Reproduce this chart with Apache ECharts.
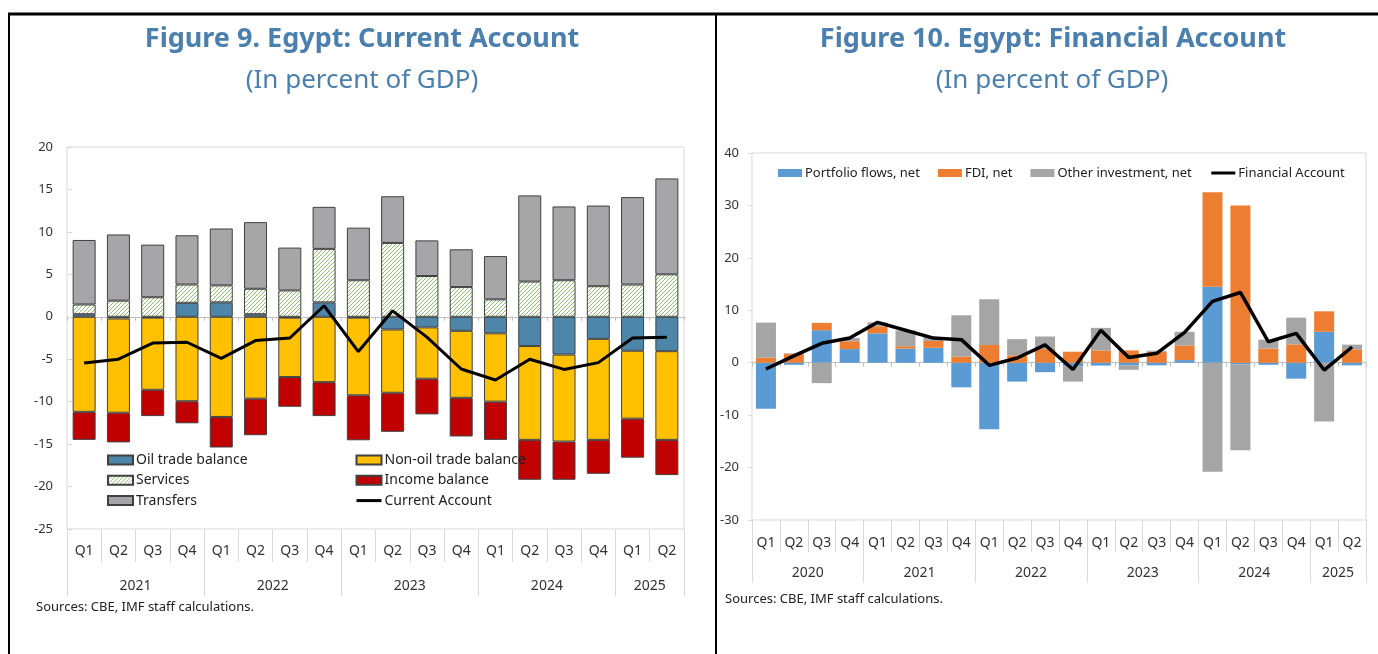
<!DOCTYPE html>
<html><head><meta charset="utf-8">
<script src="https://cdn.jsdelivr.net/npm/echarts@6/dist/echarts.min.js"></script>
<style>html,body{margin:0;padding:0;background:#fff;}#c{width:1378px;height:654px;}</style>
</head><body><div id="c"></div>
<script>
// ---------- Figure 9: Current Account (percent of GDP) ----------
const leftPeriods = ['2021Q1','2021Q2','2021Q3','2021Q4','2022Q1','2022Q2','2022Q3','2022Q4',
  '2023Q1','2023Q2','2023Q3','2023Q4','2024Q1','2024Q2','2024Q3','2024Q4','2025Q1','2025Q2'];
const oilTrade   = [0.3, -0.2, -0.1, 1.65, 1.7, 0.3, -0.1, 1.7, -0.1, -1.5, -1.25, -1.65, -1.95, -3.45, -4.45, -2.6, -4.0, -4.05];
const nonOilTrade= [-11.2, -11.1, -8.5, -9.95, -11.8, -9.65, -7.0, -7.7, -9.15, -7.45, -6.05, -7.9, -8.05, -11.05, -10.25, -11.9, -8.0, -10.45];
const incomeBal  = [-3.3, -3.5, -3.1, -2.6, -3.6, -4.3, -3.5, -4.0, -5.3, -4.6, -4.2, -4.55, -4.5, -4.7, -4.5, -4.0, -4.6, -4.15];
const services   = [1.15, 1.9, 2.3, 2.15, 2.0, 3.0, 3.1, 6.3, 4.3, 8.7, 4.8, 3.5, 2.05, 4.15, 4.3, 3.6, 3.8, 5.0];
const transfers  = [7.6, 7.8, 6.2, 5.8, 6.7, 7.85, 5.05, 4.95, 6.2, 5.5, 4.2, 4.45, 5.1, 10.15, 8.7, 9.5, 10.3, 11.3];
const currentAcc = [-5.45, -5.0, -3.1, -3.0, -4.9, -2.8, -2.5, 1.3, -4.1, 0.7, -2.4, -6.15, -7.45, -5.0, -6.2, -5.4, -2.5, -2.4];
const leftYTicks = {min: -25, max: 20, interval: 5};

// ---------- Figure 10: Financial Account (percent of GDP) ----------
const rightPeriods = ['2020Q1','2020Q2','2020Q3','2020Q4','2021Q1','2021Q2','2021Q3','2021Q4',
  '2022Q1','2022Q2','2022Q3','2022Q4','2023Q1','2023Q2','2023Q3','2023Q4',
  '2024Q1','2024Q2','2024Q3','2024Q4','2025Q1','2025Q2'];
const portfolio = [-8.8, -0.4, 6.2, 2.6, 5.6, 2.7, 2.85, -4.7, -12.7, -3.6, -1.8, -0.7, -0.55, -0.5, -0.5, 0.5, 14.5, -0.3, -0.4, -3.05, 5.9, -0.5];
const fdi       = [0.95, 1.7, 1.4, 1.5, 1.35, 0.45, 1.3, 1.15, 3.4, 1.4, 2.6, 2.1, 2.35, 2.35, 2.1, 2.8, 18.0, 30.0, 2.7, 3.5, 3.9, 2.55];
const otherInv  = [6.7, 0.1, -3.9, 0.6, 0.75, 3.0, 0.75, 7.9, 8.7, 3.1, 2.4, -2.9, 4.3, -0.85, 0.2, 2.6, -20.8, -16.4, 1.7, 5.1, -11.2, 0.9];
const finAcc    = [-1.2, 1.3, 3.7, 4.7, 7.7, 6.2, 4.7, 4.4, -0.5, 0.9, 3.4, -1.3, 6.2, 1.0, 1.8, 5.8, 11.7, 13.4, 4.0, 5.6, -1.4, 3.0];
const rightYTicks = {min: -30, max: 40, interval: 10};

const FONT = '"Noto Sans", "Open Sans", sans-serif';
const TITLE_COLOR = '#4a7fae';
const AXIS_GRAY = '#d9d9d9';
const TEXT = '#333333';

function hatchPattern() {
  const s = 4;
  const c = document.createElement('canvas');
  c.width = s; c.height = s;
  const g = c.getContext('2d');
  g.fillStyle = '#ffffff'; g.fillRect(0, 0, s, s);
  g.strokeStyle = '#8fc06f'; g.lineWidth = 1;
  g.beginPath();
  g.moveTo(0, s); g.lineTo(s, 0);
  g.moveTo(-1, 1); g.lineTo(1, -1);
  g.moveTo(s - 1, s + 1); g.lineTo(s + 1, s - 1);
  g.stroke();
  return c;
}

function yearBoundaries(periods) {
  const n = periods.length;
  const labels = new Array(n + 1).fill('');
  const ticks = [];
  let start = 0;
  for (let i = 1; i <= n; i++) {
    if (i === n || periods[i].slice(0, 4) !== periods[start].slice(0, 4)) {
      labels[Math.round((start + i) / 2)] = periods[start].slice(0, 4);
      ticks.push(start);
      start = i;
    }
  }
  ticks.push(n);
  return {labels, ticks};
}

function xAxesFor(gridIndex, periods, qMargin, yMargin, qTick, yTick) {
  const yb = yearBoundaries(periods);
  return [
    { type: 'category', gridIndex, data: periods, position: 'bottom', boundaryGap: true,
      axisLine: {show: false, onZero: false},
      axisTick: {show: true, interval: 0, length: qTick, lineStyle: {color: AXIS_GRAY}},
      axisLabel: {interval: 0, margin: qMargin, formatter: v => v.slice(4), color: TEXT, fontSize: 14, fontFamily: FONT},
      splitLine: {show: false} },
    { type: 'category', gridIndex, data: yb.labels.map((_, i) => 'b' + i), position: 'bottom', boundaryGap: false,
      axisLine: {show: false, onZero: false},
      axisTick: {show: true, interval: (i) => yb.ticks.indexOf(i) >= 0, length: yTick, lineStyle: {color: AXIS_GRAY}},
      axisLabel: {interval: 0, margin: yMargin, formatter: (v, i) => yb.labels[i], color: TEXT, fontSize: 14, fontFamily: FONT},
      splitLine: {show: false} },
    { type: 'category', gridIndex, data: periods, position: 'bottom', boundaryGap: true,
      axisLine: {show: true, onZero: true, lineStyle: {color: '#bfbfbf', width: 1}},
      axisTick: {show: true, interval: 0, length: 4, lineStyle: {color: '#bfbfbf'}},
      axisLabel: {show: false}, splitLine: {show: false} }
  ];
}

const hatch = hatchPattern();
const chart = echarts.init(document.getElementById('c'), null, {renderer: 'canvas'});

const barBorder = {borderColor: '#404040', borderWidth: 1};
const lineLegendItem = (name, w) => ({name, itemStyle: {opacity: 0, color: 'transparent', borderWidth: 0},
  lineStyle: {width: w, color: '#000000'}});

const option = {
  animation: false,
  backgroundColor: '#ffffff',
  textStyle: {fontFamily: FONT},
  grid: [
    {left: 67, right: 694, top: 147, bottom: 125, show: true, borderColor: AXIS_GRAY, borderWidth: 1, backgroundColor: 'transparent'},
    {left: 752, right: 12, top: 153, bottom: 134, show: true, borderColor: AXIS_GRAY, borderWidth: 1, backgroundColor: 'transparent'}
  ],
  xAxis: [].concat(
    xAxesFor(0, leftPeriods, 15, 50, 33, 67),
    xAxesFor(1, rightPeriods, 16, 46, 32, 63)
  ),
  yAxis: [
    { type: 'value', gridIndex: 0, min: leftYTicks.min, max: leftYTicks.max, interval: leftYTicks.interval,
      axisLine: {show: false}, axisTick: {show: true, inside: true, length: 5, lineStyle: {color: AXIS_GRAY}},
      axisLabel: {margin: 14, color: TEXT, fontSize: 13, fontFamily: FONT}, splitLine: {show: false} },
    { type: 'value', gridIndex: 1, min: rightYTicks.min, max: rightYTicks.max, interval: rightYTicks.interval,
      axisLine: {show: false}, axisTick: {show: true, length: 4, lineStyle: {color: AXIS_GRAY}},
      axisLabel: {margin: 13, color: TEXT, fontSize: 13, fontFamily: FONT}, splitLine: {show: false} }
  ],
  legend: [
    { data: [{name: 'Oil trade balance', icon: 'rect'}, {name: 'Services', icon: 'rect'}, {name: 'Transfers', icon: 'rect'}],
      orient: 'vertical', left: 107, top: 452, padding: 0, itemWidth: 25, itemHeight: 9, itemGap: 4.3, selectedMode: false,
      textStyle: {fontSize: 14, color: '#222', fontFamily: FONT, lineHeight: 16, padding: [0, 0, 0, -2]} },
    { data: [{name: 'Non-oil trade balance', icon: 'rect'}, {name: 'Income balance', icon: 'rect'}, lineLegendItem('Current Account', 3)],
      orient: 'vertical', left: 355, top: 452, padding: 0, itemWidth: 25, itemHeight: 9, itemGap: 4.3, selectedMode: false,
      textStyle: {fontSize: 14, color: '#222', fontFamily: FONT, lineHeight: 16, padding: [0, 0, 0, -2]} },
    { data: [{name: 'Portfolio flows, net', icon: 'rect'}, {name: 'FDI, net', icon: 'rect'}, {name: 'Other investment, net', icon: 'rect'}, lineLegendItem('Financial Account', 3)],
      orient: 'horizontal', left: 778, top: 165, padding: 0, width: 600, itemWidth: 24, itemHeight: 8, itemGap: 18, selectedMode: false,
      textStyle: {fontSize: 13, color: '#222', fontFamily: FONT, lineHeight: 16, padding: [0, 0, 0, -2]} }
  ],
  series: [
    {name: 'Oil trade balance', type: 'bar', xAxisIndex: 0, yAxisIndex: 0, stack: 'ca', barWidth: 23, data: oilTrade,
     itemStyle: Object.assign({color: '#4e86aa'}, barBorder)},
    {name: 'Non-oil trade balance', type: 'bar', xAxisIndex: 0, yAxisIndex: 0, stack: 'ca', barWidth: 23, data: nonOilTrade,
     itemStyle: Object.assign({color: '#ffc000'}, barBorder)},
    {name: 'Income balance', type: 'bar', xAxisIndex: 0, yAxisIndex: 0, stack: 'ca', barWidth: 23, data: incomeBal,
     itemStyle: Object.assign({color: '#c00000'}, barBorder)},
    {name: 'Services', type: 'bar', xAxisIndex: 0, yAxisIndex: 0, stack: 'ca', barWidth: 23, data: services,
     itemStyle: Object.assign({color: {image: hatch, repeat: 'repeat'}}, barBorder)},
    {name: 'Transfers', type: 'bar', xAxisIndex: 0, yAxisIndex: 0, stack: 'ca', barWidth: 23, data: transfers,
     itemStyle: Object.assign({color: '#a6a6a9'}, barBorder)},
    {name: 'Current Account', type: 'line', xAxisIndex: 0, yAxisIndex: 0, data: currentAcc, symbol: 'none', z: 5,
     lineStyle: {color: '#000000', width: 3}, itemStyle: {color: '#000000'}},

    {name: 'Portfolio flows, net', type: 'bar', xAxisIndex: 3, yAxisIndex: 1, stack: 'fa', barWidth: 20, data: portfolio,
     itemStyle: {color: '#5b9bd5'}},
    {name: 'FDI, net', type: 'bar', xAxisIndex: 3, yAxisIndex: 1, stack: 'fa', barWidth: 20, data: fdi,
     itemStyle: {color: '#ed7d31'}},
    {name: 'Other investment, net', type: 'bar', xAxisIndex: 3, yAxisIndex: 1, stack: 'fa', barWidth: 20, data: otherInv,
     itemStyle: {color: '#a5a5a5'}},
    {name: 'Financial Account', type: 'line', xAxisIndex: 3, yAxisIndex: 1, data: finAcc, symbol: 'none', z: 5,
     lineStyle: {color: '#000000', width: 3.5}, itemStyle: {color: '#000000'}}
  ],
  graphic: [
    {type: 'line', shape: {x1: 8, y1: 14, x2: 1378, y2: 14}, style: {stroke: '#000', lineWidth: 3}, silent: true},
    {type: 'line', shape: {x1: 9, y1: 14, x2: 9, y2: 654}, style: {stroke: '#000', lineWidth: 2}, silent: true},
    {type: 'line', shape: {x1: 716, y1: 14, x2: 716, y2: 654}, style: {stroke: '#000', lineWidth: 2}, silent: true},
    {type: 'text', style: {text: 'Figure 9. Egypt: Current Account', x: 362, y: 39, align: 'center', verticalAlign: 'middle',
      font: 'bold 27px ' + FONT, fill: TITLE_COLOR}, silent: true},
    {type: 'text', style: {text: '(In percent of GDP)', x: 362, y: 81, align: 'center', verticalAlign: 'middle',
      font: '26px ' + FONT, fill: TITLE_COLOR}, silent: true},
    {type: 'text', style: {text: 'Figure 10. Egypt: Financial Account', x: 1053, y: 39, align: 'center', verticalAlign: 'middle',
      font: 'bold 27px ' + FONT, fill: TITLE_COLOR}, silent: true},
    {type: 'text', style: {text: '(In percent of GDP)', x: 1052, y: 81, align: 'center', verticalAlign: 'middle',
      font: '26px ' + FONT, fill: TITLE_COLOR}, silent: true},
    {type: 'text', style: {text: 'Sources: CBE, IMF staff calculations.', x: 36, y: 607, align: 'left', verticalAlign: 'middle',
      font: '13px ' + FONT, fill: '#222'}, silent: true},
    {type: 'text', style: {text: 'Sources: CBE, IMF staff calculations.', x: 725, y: 599, align: 'left', verticalAlign: 'middle',
      font: '13px ' + FONT, fill: '#222'}, silent: true}
  ]
};
chart.setOption(option);
</script>
</body></html>
